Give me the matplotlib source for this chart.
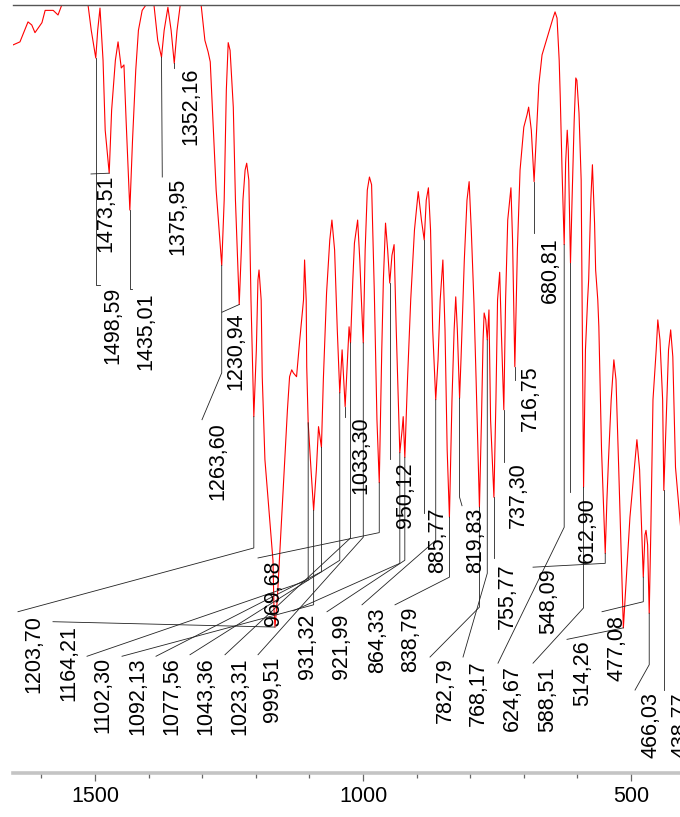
import matplotlib
matplotlib.use('Agg')
import matplotlib.pyplot as plt
from matplotlib.ticker import MultipleLocator, FixedLocator

plt.rcParams['font.family'] = ['Liberation Sans', 'DejaVu Sans']

# ---------------- spectrum (wavenumber cm-1, transmittance %) ----------------
wavenumber = [
    1653, 1640, 1625, 1618, 1612, 1599, 1593, 1578, 1569, 1562,
    1547, 1528, 1513, 1507, 1498.59, 1495, 1490.7, 1485, 1481, 1473.51,
    1469, 1462, 1457, 1451, 1446, 1442, 1435.01, 1430, 1424, 1419,
    1412, 1405, 1399, 1390, 1383, 1375.95, 1371, 1364, 1358, 1352.16,
    1347, 1341, 1323, 1302, 1295, 1289, 1285, 1280, 1274, 1263.60,
    1259, 1255, 1251.5, 1248, 1242, 1238, 1230.94, 1227, 1224, 1220,
    1217, 1213, 1209, 1203.70, 1199, 1196, 1194, 1190, 1188, 1183,
    1177, 1173, 1168, 1166, 1164.21, 1160, 1156, 1150, 1146, 1141,
    1137, 1133, 1130, 1124, 1118, 1111, 1109, 1106, 1105, 1102.30,
    1097, 1092.13, 1087, 1083, 1077.56, 1074, 1068, 1062, 1058, 1053,
    1048, 1043.36, 1039, 1033.30, 1029, 1026, 1023.31, 1019, 1016, 1010,
    1006, 1003, 999.51, 996, 992, 988, 984, 979, 974, 969.68,
    965, 962, 958, 954, 950.12, 946, 942, 938, 931.32, 927,
    925, 921.99, 917, 911, 904, 897, 891, 885.77, 882, 878,
    874, 870, 864.33, 860, 856, 851, 847, 843, 838.79, 834,
    830, 827, 824, 819.83, 817, 811, 806, 802, 798, 793,
    789, 782.79, 779, 776, 774, 771, 768.17, 765, 762, 755.77,
    752, 749, 745, 742, 737.30, 734, 730, 724, 721, 716.75,
    712, 707, 700, 694, 691, 686, 680.81, 677, 672, 666,
    655, 645.5, 641.7, 638, 634, 632, 628.6, 624.67, 622, 619,
    617, 612.90, 610, 606, 603, 601, 597, 593, 588.51, 585,
    581, 579, 575, 572, 568, 566, 562, 560, 555, 548.09,
    545, 542, 537, 532, 528, 523, 518, 514.26, 509, 502,
    494, 489, 484, 477.08, 474, 472, 469, 466.03, 463, 459,
    453, 450, 446, 441, 438.77, 433, 430, 426, 422, 417,
    405,
]
transmittance = [
    94.8, 95.2, 97.8, 97.4, 96.4, 97.7, 99.3, 99.3, 98.7, 100.0,
    104, 104, 100.0, 96.7, 93.1, 96.7, 99.6, 92.8, 83.7, 78.1,
    86.3, 92.8, 95.2, 91.8, 92.2, 85.0, 73.3, 82.4, 91.5, 96.7,
    99.3, 100.0, 104, 100.0, 95.4, 93.2, 96.7, 99.7, 96.7, 92.4,
    96.7, 100.0, 104, 100.0, 95.4, 93.9, 92.6, 85.0, 75.9, 66.1,
    74.6, 88.9, 95.1, 94.1, 86.7, 74.6, 61.0, 68.1, 74.6, 78.5,
    79.4, 77.2, 61.6, 46.4, 55.1, 64.2, 65.5, 61.6, 51.6, 40.8,
    35.5, 32.0, 27.7, 21.2, 19.0, 22.5, 27.7, 35.5, 40.8, 47.3,
    51.6, 52.5, 52.1, 51.6, 56.4, 61.6, 66.8, 61.6, 52.9, 45.6,
    39.5, 34.2, 39.5, 45.1, 42.4, 51.2, 62.5, 69.4, 72.0, 68.1,
    57.7, 49.5, 55.1, 47.7, 53.8, 58.1, 56.0, 64.2, 69.0, 72.0,
    66.8, 61.6, 56.0, 68.1, 75.9, 77.6, 76.6, 62.9, 46.0, 37.8,
    55.1, 64.2, 71.6, 68.1, 63.8, 67.4, 68.8, 57.7, 41.7, 44.7,
    46.4, 41.1, 51.2, 61.6, 70.7, 75.7, 72.0, 69.4, 74.6, 76.2,
    70.7, 57.7, 48.6, 53.8, 61.6, 66.8, 57.7, 42.1, 33.3, 48.6,
    57.7, 62.0, 57.7, 48.8, 54.2, 66.8, 74.6, 77.0, 70.7, 61.2,
    51.2, 34.6, 46.0, 56.4, 59.9, 59.0, 56.4, 60.3, 46.0, 35.9,
    48.6, 61.6, 65.2, 57.7, 47.3, 61.6, 72.0, 76.2, 69.4, 52.9,
    68.1, 78.5, 84.1, 85.7, 86.7, 83.7, 77.0, 82.4, 89.6, 93.5,
    96.1, 98.3, 99.1, 98.3, 92.8, 88.0, 78.3, 68.8, 79.4, 83.7,
    81.1, 66.4, 74.6, 85.0, 90.5, 90.2, 85.9, 77.2, 37.2, 55.1,
    61.6, 64.2, 74.6, 79.2, 71.6, 65.5, 61.6, 58.1, 42.1, 28.6,
    35.5, 40.8, 48.6, 53.8, 51.2, 39.8, 27.7, 18.9, 25.1, 33.3,
    39.5, 43.4, 39.5, 25.5, 31.0, 31.6, 29.7, 20.8, 31.6, 48.6,
    55.1, 59.0, 56.4, 48.6, 36.8, 48.6, 55.1, 57.7, 54.2, 39.8,
    30.0,
]
assert len(wavenumber) == len(transmittance)

# ---------------- peak labels ----------------
peak_labels = ['1498,59', '1473,51', '1435,01', '1375,95', '1352,16', '1263,60',
               '1230,94', '1203,70', '1164,21', '1102,30', '1092,13', '1077,56',
               '1043,36', '1033,30', '1023,31', '999,51', '969,68', '950,12',
               '931,32', '921,99', '885,77', '864,33', '838,79', '819,83',
               '782,79', '768,17', '755,77', '737,30', '716,75', '680,81',
               '624,67', '612,90', '548,09', '588,51', '514,26', '477,08',
               '466,03', '438,77']
peak_wn = [1498.59, 1473.51, 1435.01, 1375.95, 1352.16, 1263.60,
           1230.94, 1203.70, 1164.21, 1102.30, 1092.13, 1077.56,
           1043.36, 1033.30, 1023.31, 999.51, 969.68, 950.12,
           931.32, 921.99, 885.77, 864.33, 838.79, 819.83,
           782.79, 768.17, 755.77, 737.30, 716.75, 680.81,
           624.67, 612.90, 548.09, 588.51, 514.26, 477.08,
           466.03, 438.77]
# leader: vertical drop to elbow_T (None = no elbow), then to end point
elbow_T = [63.5, None, 63.0, None, None, 52.1,
           None, 29.3, None, 25.1, 21.9, 26.2,
           27.7, None, 30.6, 30.7, 31.3, None,
           27.3, 27.7, None, 30.3, 25.5, 35.9,
           21.6, 26.0, None, None, None, None,
           32.0, None, 27.3, 21.5, None, 22.3,
           14.1, None]
end_wn = [1490.7, 1507.5, 1431.0, 1374.5, 1352.16, 1300.4,
          1263.1, 1643.7, 1578.4, 1514.9, 1449.6, 1386.2,
          1322.8, 1033.30, 1257.5, 1195.9, 1195.9, 950.12,
          1130.6, 1067.2, 885.77, 1001.9, 940.3, 815.3,
          875.0, 813.4, 755.77, 737.30, 716.75, 680.81,
          748.2, 612.90, 682.8, 682.8, 619.4, 554.1,
          492.5, 438.77]
end_T = [63.5, 78.0, 63.0, 77.6, 91.8, 46.0,
         60.0, 21.0, 19.7, 15.2, 15.2, 15.2,
         15.4, 46.4, 15.4, 15.4, 28.0, 40.9,
         21.1, 21.0, 33.9, 21.9, 21.9, 34.8,
         15.1, 15.1, 28.0, 40.5, 51.2, 70.3,
         14.3, 36.6, 26.8, 14.3, 17.4, 21.0,
         10.8, 10.8]
label_wn = [1486.9, 1500.0, 1425.4, 1365.7, 1341.4, 1291.0,
            1257.5, 1634.3, 1569.0, 1505.6, 1440.3, 1376.9,
            1313.4, 1024.2, 1250.0, 1188.4, 1186.6, 940.3,
            1123.1, 1059.7, 880.6, 992.5, 930.9, 809.7,
            865.7, 804.1, 750.0, 729.5, 707.1, 669.8,
            740.7, 600.7, 673.5, 675.4, 610.1, 544.8,
            483.2, 427.2]
label_T = [63.3, 77.9, 62.5, 77.5, 91.8, 45.7,
           60.0, 20.6, 19.3, 15.1, 15.1, 15.1,
           15.1, 46.4, 15.1, 15.1, 27.7, 40.5,
           20.8, 20.7, 34.6, 21.6, 21.6, 34.5,
           15.0, 14.7, 27.3, 40.4, 53.1, 69.8,
           14.1, 35.9, 26.7, 13.8, 17.3, 20.6,
           10.5, 10.5]

x_major = [1500, 1000, 500]

# ---------------- figure ----------------
W, H = 680, 817
fig = plt.figure(figsize=(W / 100, H / 100), dpi=100)
ax = fig.add_axes([13 / W, 1 - 773 / H, 1 - 13 / W, (773 - 5) / H])
ax.set_xlim(1653, 408.6)
ax.set_ylim(0, 100)

ax.plot(wavenumber, transmittance, color='#ff0000', lw=0.8)

spec = dict(zip(wavenumber, transmittance))
for i, lab in enumerate(peak_labels):
    pw = peak_wn[i]
    pt = spec[pw]
    xs, ys = [pw], [pt]
    if elbow_T[i] is not None:
        xs.append(pw)
        ys.append(elbow_T[i])
    xs.append(end_wn[i])
    ys.append(end_T[i])
    ax.plot(xs, ys, color='#222222', lw=0.6, clip_on=False)
    ax.text(label_wn[i], label_T[i], lab, rotation=90, rotation_mode='anchor',
            ha='right', va='top', fontsize=15.5, color='black')

for s in ['left', 'right']:
    ax.spines[s].set_visible(False)
ax.spines['top'].set_color('#555555')
ax.spines['top'].set_linewidth(1.0)
ax.spines['bottom'].set_color('#c4c4c4')
ax.spines['bottom'].set_linewidth(2.6)

ax.yaxis.set_visible(False)
ax.xaxis.set_major_locator(FixedLocator(x_major))
ax.xaxis.set_minor_locator(MultipleLocator(100))
ax.tick_params(axis='x', which='major', direction='out', length=5.5, width=0.9,
               color='#666666', labelsize=15.5, pad=4)
ax.tick_params(axis='x', which='minor', direction='out', length=3.5, width=0.9,
               color='#666666')

fig.savefig('out.png', dpi=100)
